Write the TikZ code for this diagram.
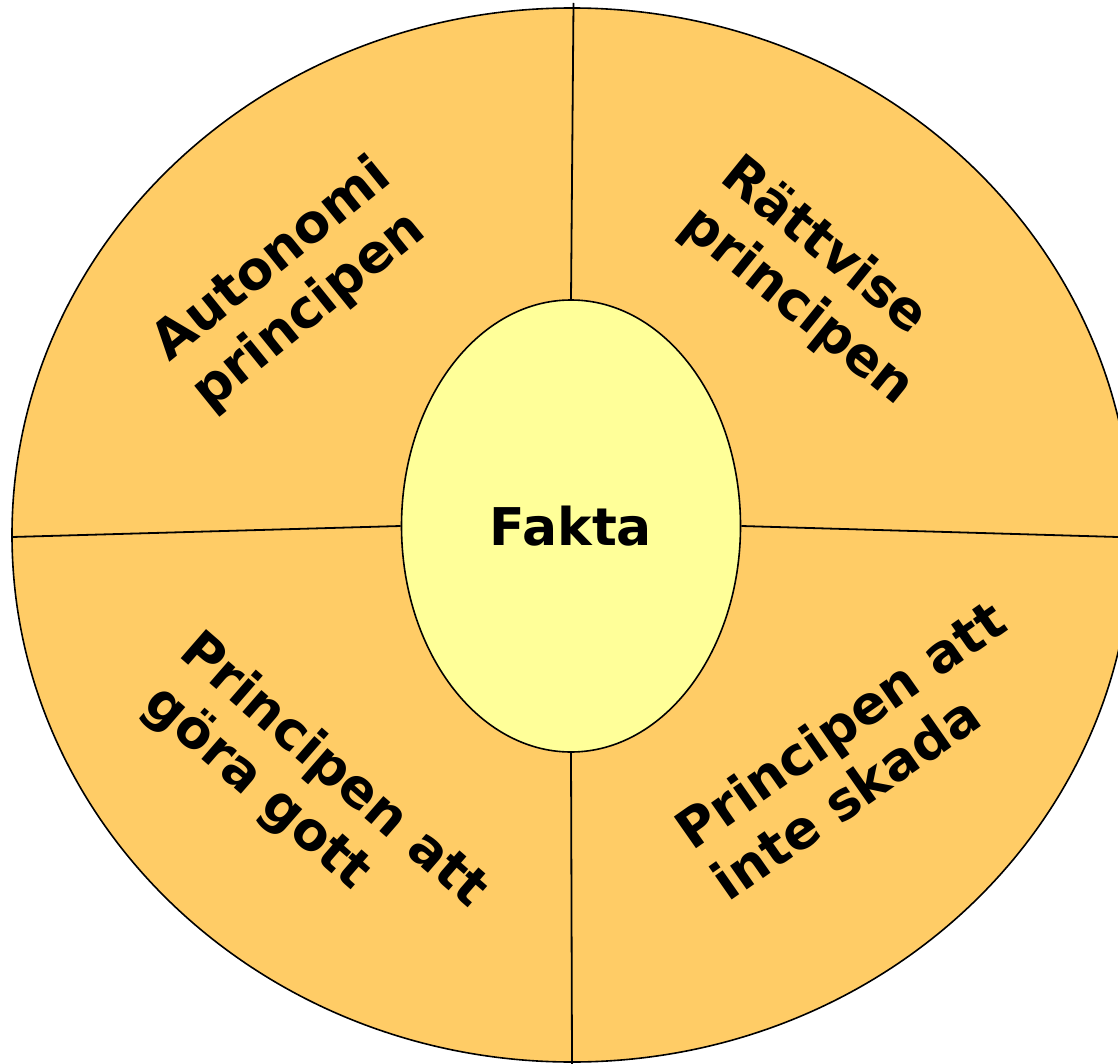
\documentclass[tikz,border=0pt]{standalone}
\usepackage{fontspec}
\setmainfont{DejaVu Sans}
\usetikzlibrary{positioning, shapes.geometric, calc}
\definecolor{ringcolor}{RGB}{255, 204, 102}
\definecolor{corecolor}{RGB}{255, 255, 153}

\begin{document}
\begin{tikzpicture}[x=1pt, y=-1pt,
    principle/.style={font=\fontsize{53}{63}\selectfont\bfseries, align=left},
    spoke/.style={draw, line width=1.8pt}]
        \useasboundingbox (0,0) rectangle (1118,1064);
        % outer ring and centre
        \node[draw, ellipse, line width=1.6pt, fill=ringcolor, minimum width=1120pt,
              minimum height=1054pt, inner sep=0pt] (wheel) at (572,535) {};
        \node[draw, ellipse, line width=1.6pt, fill=corecolor, minimum width=339pt,
              minimum height=452pt, inner sep=0pt,
              font=\fontsize{52}{60}\selectfont\bfseries] (fakta) at (571,526) {Fakta};
        % spoke ends
        \coordinate (top) at (573.5,3);
        \coordinate (bottom) at (572,1064);
        \coordinate (leftend) at (12,537);
        \coordinate (rightend) at (1118,537);
        \draw[spoke] (fakta.north) -- (top);
        \draw[spoke] (fakta.south) -- (bottom);
        \draw[spoke] (fakta.west) -- (leftend);
        \draw[spoke] (fakta.east) -- (rightend);
        % the four principles
        \node[principle, rotate=39] (auto) at (292,285) {Autonomi\\principen};
        \node[principle, rotate=-39] (ratt) at (817,282) {Rättvise\\principen};
        \node[principle, rotate=-41] (gott) at (312,795) {Principen att\\\hspace{8pt}göra gott};
        \node[principle, rotate=35] (skada) at (858,750) {Principen att\\inte skada};
      \end{tikzpicture}
\end{document}
